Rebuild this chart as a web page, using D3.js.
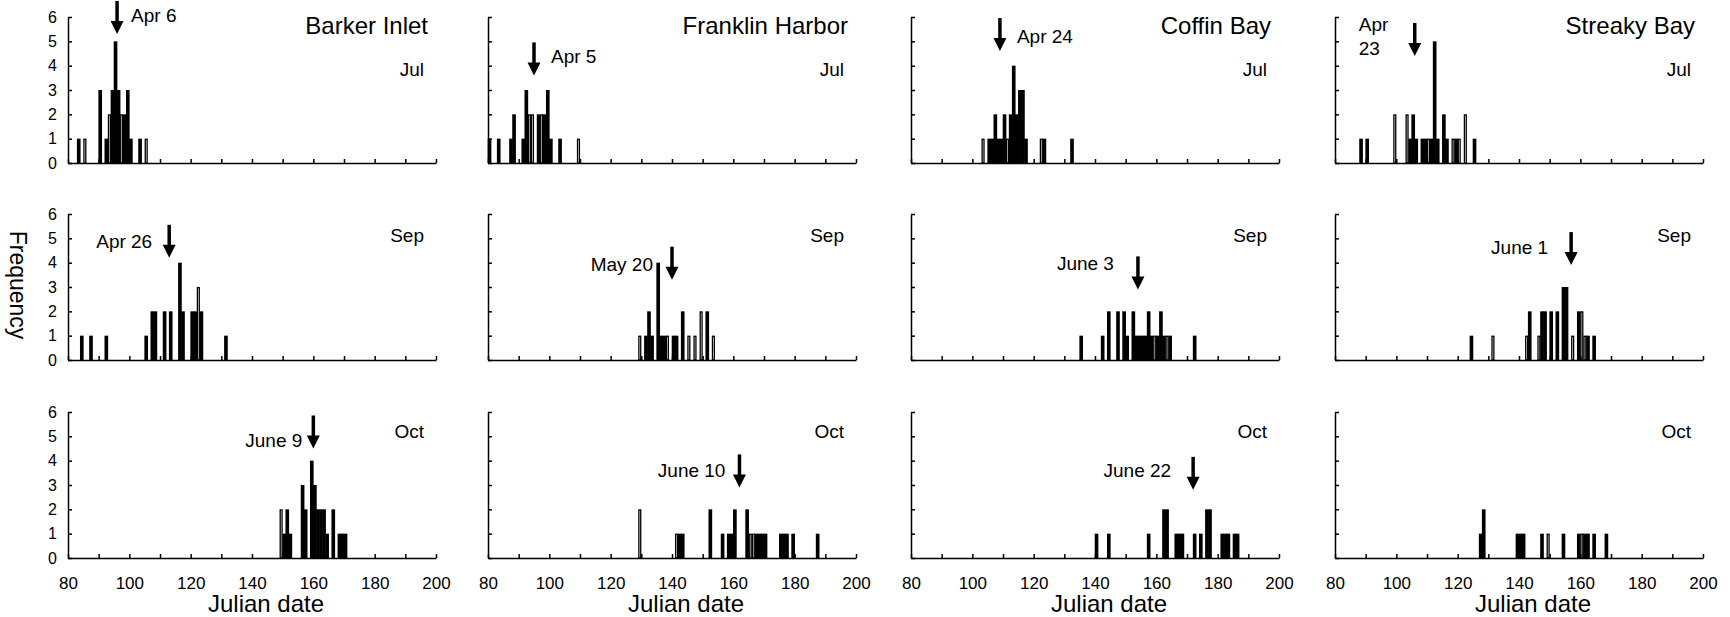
<!DOCTYPE html>
<html>
<head>
<meta charset="utf-8">
<script src="https://cdn.jsdelivr.net/npm/d3@7"></script>
<style>
  body { margin: 0; background: #fff; }
  text { font-family: "Liberation Sans", Arial, Helvetica, sans-serif; fill: #000; }
  .axis path, .axis line { stroke: #000; stroke-width: 1.5; }
</style>
</head>
<body>
<script>
// ---- data ----
const sites = ["Barker Inlet", "Franklin Harbor", "Coffin Bay", "Streaky Bay"];
const months = ["Jul", "Sep", "Oct"];
const xTicks = [80, 90, 100, 110, 120, 130, 140, 150, 160, 170, 180, 190, 200];
const yTicks = [0, 1, 2, 3, 4, 5, 6];

// bars: [julian day, frequency, open bar (1) or filled]
const barkerJul = [[83,1],[85,1,1],[90,3],[92,1],[93,2,1],[94,3],[95,5],[96,3],[97,2,1],[98,2],[99,3],[100,1],[103,1],[105,1,1]];
const franklinJul = [[80,1],[83,1],[87,1],[88,2],[91,1],[92,3],[93,2,1],[94,2,1],[96,2],[97,2,1],[98,2],[99,3],[100,1],[103,1],[109,1,1]];
const coffinJul = [[103,1,1],[105,1],[106,1],[107,2],[108,1],[109,1],[110,2],[111,1,1],[112,2],[113,4],[114,2],[115,3],[116,3],[117,1],[122,1,1],[123,1],[132,1]];
const streakyJul = [[88,1],[90,1],[99,2,1],[103,2,1],[104,1],[105,2],[106,1],[108,1],[109,1],[110,1,1],[111,1],[112,5],[113,1],[115,2],[116,1],[118,1,1],[119,1],[120,1,1],[122,2,1],[125,1]];

const barkerSep = [[84,1],[87,1],[92,1],[105,1],[107,2],[108,2],[111,2],[113,2],[116,4],[117,2],[120,2],[121,2],[122,3,1],[123,2],[131,1]];
const franklinSep = [[129,1,1],[131,1],[132,2],[133,1],[135,4],[136,1],[137,1],[138,1,1],[140,1],[141,1],[143,2],[145,1,1],[147,1,1],[149,2,1],[151,2],[153,1,1]];
const coffinSep = [[135,1],[142,1],[144,2],[147,2],[149,2],[150,1],[152,2],[153,1],[154,1],[155,1],[156,1],[157,2],[158,1],[159,1,1],[160,1],[161,2],[162,1],[163,1,1],[164,1],[172,1]];
const streakySep = [[124,1],[131,1,1],[142,1,1],[143,2],[146,1,1],[147,2],[148,2],[150,2],[152,2],[154,3],[155,3],[157,1,1],[159,2],[160,2,1],[161,1,1],[162,1],[164,1]];

const barkerOct = [[149,2,1],[150,1],[151,2],[152,1],[156,3],[157,2],[159,4],[160,3],[161,2],[162,2],[163,2],[164,1],[166,2],[168,1],[169,1],[170,1]];
const franklinOct = [[129,2,1],[141,1,1],[142,1],[143,1],[152,2],[156,1],[158,1],[159,1],[160,2],[164,2],[165,1,1],[166,1,1],[167,1],[168,1],[169,1],[170,1],[175,1],[176,1],[177,1],[179,1],[187,1]];
const coffinOct = [[140,1],[144,1],[157,1],[162,2],[163,2],[166,1],[167,1],[168,1],[172,1],[174,1],[176,2],[177,2],[181,1],[182,1],[183,1],[185,1],[186,1]];
const streakyOct = [[127,1],[128,2],[139,1],[140,1],[141,1],[147,1],[149,1,1],[154,1],[159,1],[160,1,1],[161,1],[162,1],[164,1],[168,1]];

const panelBars = [
  [barkerJul, franklinJul, coffinJul, streakyJul],
  [barkerSep, franklinSep, coffinSep, streakySep],
  [barkerOct, franklinOct, coffinOct, streakyOct]
];

// arrows: julian day pointed at, and the date label
const arrowDays = [[96, 95, 109, 106], [113, 140, 154, 157], [160, 162, 172, null]];
const arrowLabels = [["Apr 6", "Apr 5", "Apr 24", "Apr 23"], ["Apr 26", "May 20", "June 3", "June 1"], ["June 9", "June 10", "June 22", null]];

// ---- layout ----
const colLeft = [68, 488, 911, 1335];
const rowBase = [163, 360, 558];
const W = 368, H = 146;
const monthRise = [87, 118, 120];
// arrow tip (in frequency units) and label offset from the tip (px)
const arrowLayout = [
  [{tip: 5.3, dx: 14, dy: -12, anchor: "start"}, {tip: 3.6, dx: 17, dy: -12, anchor: "start"},
   {tip: 4.6, dx: 17, dy: -8, anchor: "start"}, {tip: 4.4, dx: -56, dy: -25, anchor: "start", wrap: true}],
  [{tip: 4.2, dx: -17, dy: -10, anchor: "end"}, {tip: 3.3, dx: -19, dy: -9, anchor: "end"},
   {tip: 2.9, dx: -24, dy: -19, anchor: "end"}, {tip: 3.9, dx: -23, dy: -11, anchor: "end"}],
  [{tip: 4.5, dx: -11, dy: -2, anchor: "end"}, {tip: 2.9, dx: -14, dy: -10, anchor: "end"},
   {tip: 2.8, dx: -22, dy: -13, anchor: "end"}, null]
];

const svg = d3.select("body").append("svg")
  .attr("width", 1730)
  .attr("height", 617);

const x = d3.scaleLinear().domain([80, 200]).range([0, W]);
const y = d3.scaleLinear().domain([0, 6]).range([H, 0]);
const dayW = x(81) - x(80);

panelBars.forEach((row, r) => {
  row.forEach((bars, c) => {
    const g = svg.append("g")
      .attr("transform", `translate(${colLeft[c]}, ${rowBase[r] - H})`);

    // filled bars first, open bars on top
    const ordered = bars.slice().sort((a, b) => (a[2] || 0) - (b[2] || 0));
    g.selectAll(".bar")
      .data(ordered)
      .enter()
      .append("rect")
      .attr("class", "bar")
      .attr("x", d => d[2] ? x(d[0]) + 0.6 : x(d[0]) - 0.3)
      .attr("width", d => d[2] ? dayW - 1.2 : dayW + 0.6)
      .attr("y", d => y(d[1]) + (d[2] ? 0.6 : 0))
      .attr("height", d => H - y(d[1]) - (d[2] ? 0.6 : 0))
      .attr("fill", d => d[2] ? "#fff" : "#000")
      .attr("stroke", d => d[2] ? "#000" : "none")
      .attr("stroke-width", 1.3);

    // axes
    const bottomAxis = d3.axisBottom(x)
      .tickValues(xTicks)
      .tickSizeInner(-4)
      .tickSizeOuter(0)
      .tickPadding(19)
      .tickFormat(d => (r === 2 && d % 20 === 0) ? d : "");
    const xg = g.append("g")
      .attr("class", "axis")
      .attr("transform", `translate(0, ${H})`)
      .call(bottomAxis);
    xg.selectAll("text").attr("font-size", 17).attr("fill", "#000");

    const leftAxis = d3.axisLeft(y)
      .tickValues(yTicks)
      .tickSizeInner(-4)
      .tickSizeOuter(0)
      .tickPadding(11)
      .tickFormat(d => c === 0 ? d : "");
    const yg = g.append("g")
      .attr("class", "axis")
      .call(leftAxis);
    yg.selectAll("text").attr("font-size", 16).attr("fill", "#000");

    // site title
    if (r === 0) {
      g.append("text")
        .attr("x", W - 8)
        .attr("y", 17)
        .attr("text-anchor", "end")
        .attr("font-size", 24)
        .text(sites[c]);
    }

    // month label
    g.append("text")
      .attr("x", W - 12)
      .attr("y", H - monthRise[r])
      .attr("text-anchor", "end")
      .attr("font-size", 19)
      .text(months[r]);

    // arrow and date label
    const day = arrowDays[r][c];
    if (day != null) {
      const lay = arrowLayout[r][c];
      const ax = x(day);
      const tipY = y(lay.tip);
      g.append("line")
        .attr("x1", ax).attr("x2", ax)
        .attr("y1", tipY - 33).attr("y2", tipY - 10)
        .attr("stroke", "#000")
        .attr("stroke-width", 3.5);
      g.append("path")
        .attr("d", `M${ax - 6.5},${tipY - 13}L${ax + 6.5},${tipY - 13}L${ax},${tipY}Z`)
        .attr("fill", "#000");

      const label = g.append("text")
        .attr("x", ax + lay.dx)
        .attr("y", tipY + lay.dy)
        .attr("text-anchor", lay.anchor)
        .attr("font-size", 19);
      if (lay.wrap) {
        arrowLabels[r][c].split(" ").forEach((part, i) => {
          label.append("tspan")
            .attr("x", ax + lay.dx)
            .attr("dy", i === 0 ? 0 : 24)
            .text(part);
        });
      } else {
        label.text(arrowLabels[r][c]);
      }
    }

    // x axis title on the bottom row
    if (r === 2) {
      g.append("text")
        .attr("x", W / 2 + 14)
        .attr("y", H + 54)
        .attr("text-anchor", "middle")
        .attr("font-size", 24)
        .text("Julian date");
    }
  });
});

// y axis title
svg.append("text")
  .attr("transform", "translate(18, 285) rotate(90)")
  .attr("text-anchor", "middle")
  .attr("dominant-baseline", "central")
  .attr("font-size", 23)
  .text("Frequency");
</script>
</body>
</html>
